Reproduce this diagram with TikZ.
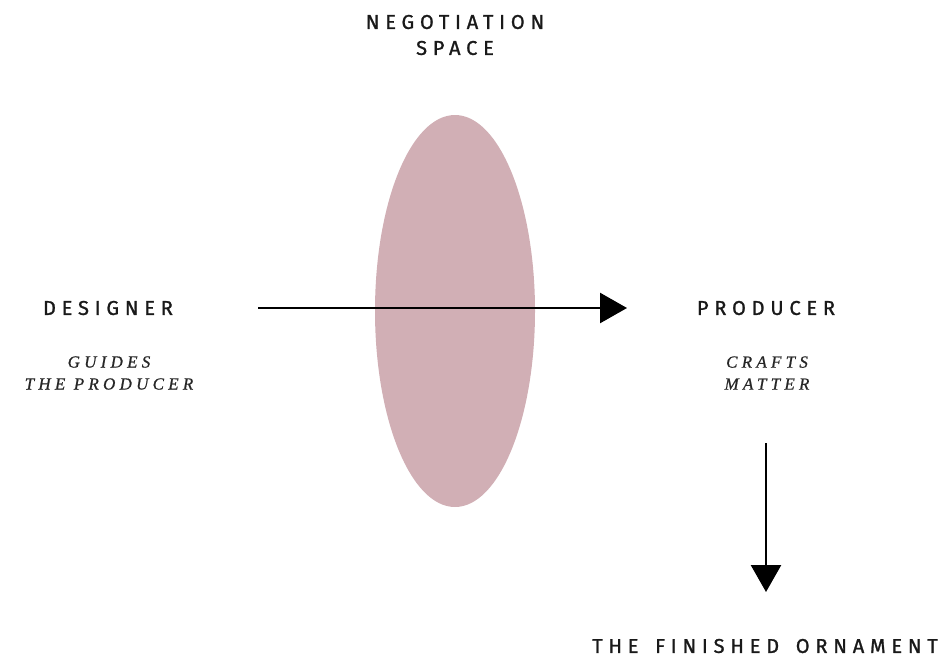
\documentclass[tikz,border=0pt]{standalone}
\usepackage{fontspec}
\setmainfont{Liberation Serif}
\newfontfamily\labelfont[LetterSpace=29,WordSpace=1.5,FakeBold=1.2]{Fira Sans}
\newfontfamily\notefont[LetterSpace=25,FakeBold=0.8]{Liberation Serif}
\usetikzlibrary{arrows.meta}
\definecolor{blush}{HTML}{D1AFB5}
\begin{document}
\begin{tikzpicture}[x=1pt,y=-1pt,
  heading/.style={font=\labelfont\fontsize{20}{26}\selectfont, align=center, inner sep=0pt, text=black!90},
  note/.style={font=\notefont\itshape\fontsize{17}{22}\selectfont, align=center, inner sep=0pt, text=black!85},
  flow/.style={line width=2.6pt, -{Triangle[length=27pt,width=30pt]}}]
\useasboundingbox (0,0) rectangle (944,662);
\fill[blush] (455,311) ellipse [x radius=80, y radius=196];
\node[heading] (neg) at (455,35) {NEGOTIATION\\SPACE};
\node[heading] (des) at (108,308) {DESIGNER};
\node[heading] (pro) at (766,308) {PRODUCER};
\node[heading] (fin) at (765,646) {THE FINISHED ORNAMENT};
\node[note] (gui) at (109,373) {GUIDES\\THE PRODUCER};
\node[note] (cra) at (767,373) {CRAFTS\\MATTER};
\coordinate (hs) at (258,308);
\coordinate (he) at (627,308);
\coordinate (vs) at (766,443);
\coordinate (ve) at (766,592);
\draw[flow] (hs) -- (he);
\draw[flow] (vs) -- (ve);
\end{tikzpicture}
\end{document}
